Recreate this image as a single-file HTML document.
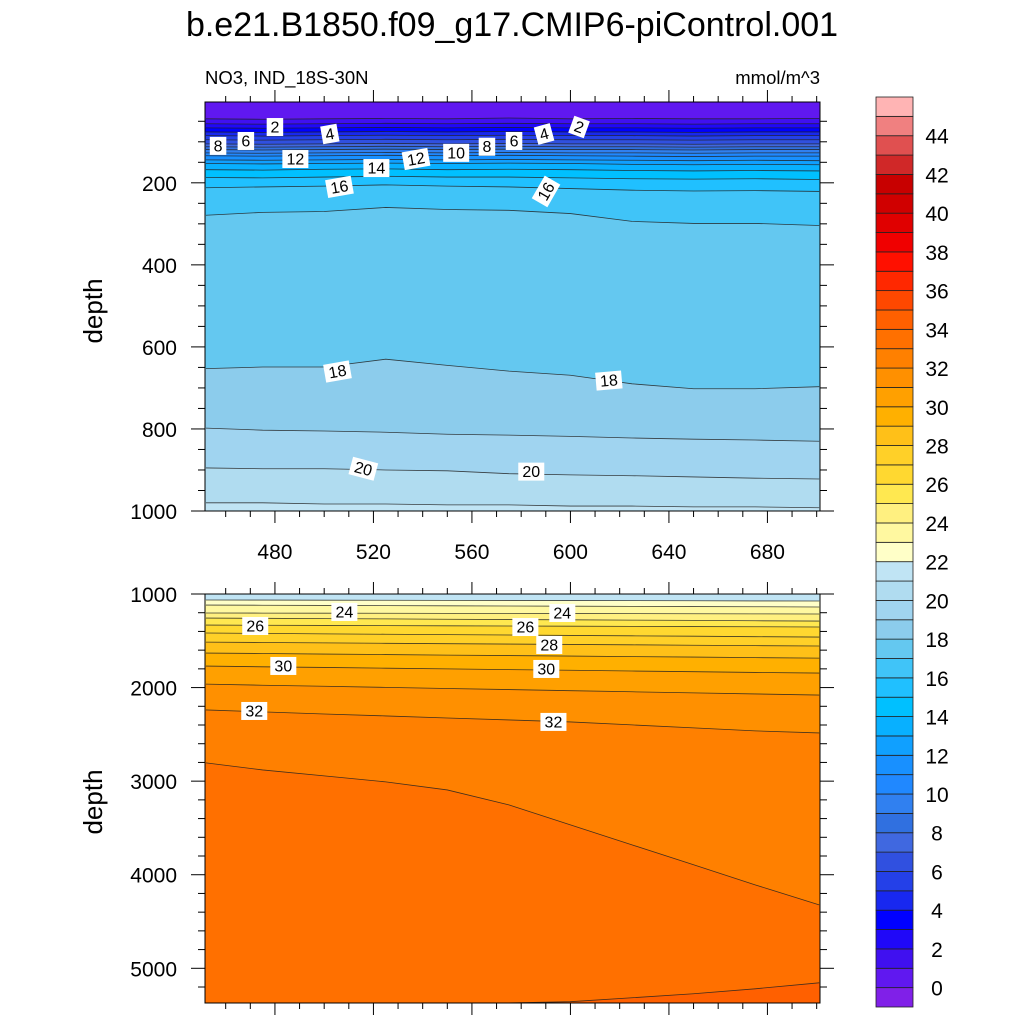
<!DOCTYPE html>
<html><head><meta charset="utf-8"><style>
html,body{margin:0;padding:0;background:#fff;}
svg text{font-family:"Liberation Sans",sans-serif;}
</style></head><body>
<svg id="chart" width="1024" height="1024" viewBox="0 0 1024 1024" xmlns="http://www.w3.org/2000/svg">
<text x="512" y="36" font-size="34" text-anchor="middle">b.e21.B1850.f09_g17.CMIP6-piControl.001</text>
<text x="205" y="84" font-size="18.5">NO3, IND_18S-30N</text>
<text x="820" y="84" font-size="18.5" text-anchor="end">mmol/m^3</text>
<text transform="translate(102,311) rotate(-90)" font-size="26" text-anchor="middle">depth</text>
<text transform="translate(102,802) rotate(-90)" font-size="26" text-anchor="middle">depth</text>
<defs>
<clipPath id="cu"><rect x="205" y="102" width="615" height="409"/></clipPath>
<clipPath id="cl"><rect x="205" y="594" width="615" height="409"/></clipPath>
</defs>
<g id="upper"></g>
<g id="lower"></g>
<g id="cbar"></g>
</svg>
<script>
// ---- data ----
const xs = [452,475,500,525,550,575,600,625,650,675,701];
const upperLevels = [1,2,3,4,5,6,7,8,9,10,11,12,13,14,15,16,17,18,19,20,21];
const upperDepths = [
[44,45,44,43,44,42,44,43,44,44,43],
[56,57,56,55,56,55,56,56,57,56,56],
[66,67,66,65,66,65,66,66,67,66,66],
[76,77,76,75,76,75,76,76,77,76,76],
[85,86,85,84,85,84,85,85,86,85,85],
[95,96,95,94,95,94,95,95,96,95,95],
[105,106,105,104,105,104,105,105,106,105,105],
[112,113,112,111,112,111,112,112,113,112,112],
[119,120,119,118,119,118,119,119,120,119,119],
[127,128,127,126,127,126,127,127,128,127,127],
[134,135,134,133,134,133,134,135,136,135,135],
[144,145,144,143,144,143,144,145,146,145,146],
[153,154,153,152,153,152,153,155,156,155,156],
[168,169,167,166,168,167,168,170,171,170,171],
[187,188,186,184,186,186,188,190,191,190,192],
[212,210,208,205,208,210,214,218,220,219,221],
[279,272,270,260,265,267,275,294,299,299,304],
[653,649,649,630,645,659,669,690,702,702,697],
[798,803,805,808,813,815,818,822,825,827,830],
[895,897,897,900,902,909,912,914,917,920,922],
[980,980,983,983,985,985,988,988,990,990,992]
];
const lowerLevels = [22,23,24,25,26,27,28,29,30,31,32,33,34];
const lowerDepths = [
[1064,1065,1066,1067,1068,1069,1070,1071,1072,1074,1075],
[1118,1120,1122,1124,1126,1128,1130,1132,1134,1136,1139],
[1203,1204,1205,1206,1207,1208,1209,1210,1211,1212,1214],
[1257,1260,1263,1266,1270,1273,1276,1279,1282,1286,1289],
[1332,1334,1336,1338,1340,1342,1344,1346,1348,1350,1353],
[1417,1421,1426,1430,1434,1438,1443,1447,1451,1456,1460],
[1514,1518,1522,1527,1531,1535,1539,1543,1548,1552,1556],
[1631,1636,1642,1647,1653,1658,1663,1669,1674,1680,1685],
[1770,1778,1785,1793,1800,1808,1815,1823,1830,1838,1845],
[1963,1975,1986,1998,2010,2021,2033,2045,2057,2068,2080],
[2239,2260,2282,2303,2325,2346,2367,2399,2431,2463,2485],
[2805,2880,2944,3008,3094,3254,3467,3681,3894,4108,4322],
[5450,5440,5430,5410,5390,5370,5357,5315,5272,5219,5155]
];
const upperLabelText = ["8","6","2","4","12","14","16","12","10","8","6","4","2","16","18","18","20","20"];
const upperLabelX = [456.9,468.2,480,502.3,488.3,521.2,506.2,537.3,553.6,566.1,577.1,589.3,603.5,590.1,505.4,615.6,515.9,584.1];
const upperLabelD = [110,98,64,81,142,164,210,142,127,112,98,81,64,221,660,682,897,904];
const upperLabelRot = [0,0,0,-10,0,0,-10,-10,0,0,0,-15,20,-60,-10,-5,15,0];
const lowerLabelText = ["24","26","24","26","28","30","30","32","32"];
const lowerLabelX = [508.2,472.0,596.7,581.7,591.4,483.4,590.2,471.6,593.1];
const lowerLabelD = [1192,1342,1203,1353,1545,1769,1801,2250,2367];
const xTicks = [480,520,560,600,640,680];
const upperYTicks = [200,400,600,800,1000];
const lowerYTicks = [1000,2000,3000,4000,5000];
const cbarLabels = [0,2,4,6,8,10,12,14,16,18,20,22,24,26,28,30,32,34,36,38,40,42,44];
const bandColors = ["#8020E8","#6018F0","#4010F0","#2008F8","#0000FF","#1828F0","#2440E8","#3050E0","#4068E0","#3070E0","#3080F0","#2088FF","#1890FF","#10A0FF","#08B0FF","#00C0FF","#20C0FF","#40C4F8","#64C8F0","#8CCCEC","#A0D4F0","#B0DCF0","#C0E4F4","#FFFFC8","#FFF8A0","#FFF080","#FFE850","#FFD830","#FFD028","#FFC018","#FFB000","#FFA000","#FF9000","#FF8000","#FF7000","#FF6000","#FF4800","#FF2800","#FF1000","#F00000","#E00000","#D00000","#C80000","#D02828","#E05050","#F08080","#FFB4B4"];

// ---- scales ----
const X0=451.6, X1=701.35, PX0=205, PX1=820;
function sx(x){return PX0+(x-X0)*(PX1-PX0)/(X1-X0);}
function syU(d){return 102+(d-3)*(511-102)/(1000-3);}
function syL(d){return 594+(d-1000)*(968.3-594)/4000;}
const NS="http://www.w3.org/2000/svg";
function mk(tag,attrs,parent){const e=document.createElementNS(NS,tag);for(const k in attrs)e.setAttribute(k,attrs[k]);parent.appendChild(e);return e;}
function colorAbove(level){return bandColors[level+1];}

function drawPanel(g, levels, depths, sy, top, bottom, clipId, name){
  const area=mk('g',{'clip-path':'url(#'+clipId+')'},g);
  const bg=mk('rect',{x:205,y:top,width:615,height:bottom-top,fill:bandColors[levels[0]]},area);
  
  
  levels.forEach((L,i)=>{
    let d='M'+sx(xs[0]-5)+','+sy(depths[i][0]);
    xs.forEach((x,j)=>{d+=' L'+sx(x)+','+sy(depths[i][j]);});
    d+=' L'+sx(xs[xs.length-1]+5)+','+sy(depths[i][xs.length-1]);
    const fillD=d+' L'+sx(X1+5)+','+(bottom+5)+' L'+sx(X0-5)+','+(bottom+5)+' Z';
    const p=mk('path',{d:fillD,fill:colorAbove(L)},area);
    
    
  });
  levels.forEach((L,i)=>{
    let d='';
    xs.forEach((x,j)=>{d+=(j?' L':'M')+sx(x)+','+sy(depths[i][j]);});
    const p=mk('path',{d:d,fill:'none',stroke:'#222','stroke-width':0.8,'stroke-opacity':0.85},area);
    
    
  });
  const f=mk('rect',{x:205,y:top,width:615,height:bottom-top,fill:'none',stroke:'#000','stroke-width':1},g);
  
  
}
function drawLabels(g, texts, lx, ld, rot, sy, name){
  texts.forEach((t,i)=>{
    const cx=sx(lx[i]), cy=sy(ld[i]);
    const w=t.length*9.5+7;
    const lg=mk('g',{transform:'translate('+cx+','+cy+') rotate('+(rot?rot[i]:0)+')'},g);
    
    
    mk('rect',{x:-w/2,y:-9,width:w,height:18,fill:'#fff'},lg);
    const tx=mk('text',{x:0,y:5.5,'font-size':16,'text-anchor':'middle'},lg);
    tx.textContent=t;
  });
}
function drawXTicks(g, top, bottom, labels){
  for(let v=460; v<=700; v+=10){
    const px=sx(v), major=(v%40===0);
    const len=major?12:6;
    mk('line',{x1:px,y1:bottom,x2:px,y2:bottom+len,stroke:'#000','stroke-width':1},g);
    mk('line',{x1:px,y1:top,x2:px,y2:top-len,stroke:'#000','stroke-width':1},g);
  }
  if(labels){
    xTicks.forEach(v=>{
      const t=mk('text',{x:sx(v),y:bottom+48,'font-size':21,'text-anchor':'middle'},g);
      
      
      t.textContent=v;
    });
  }
}
function drawYTicks(g, sy, minorStep, majorStep, from, to, majors){
  for(let v=from; v<=to; v+=minorStep){
    const py=sy(v), major=(v%majorStep===0);
    const len=major?14:7;
    mk('line',{x1:205,y1:py,x2:205-len,y2:py,stroke:'#000','stroke-width':1},g);
    mk('line',{x1:820,y1:py,x2:820+len,y2:py,stroke:'#000','stroke-width':1},g);
  }
  majors.forEach(v=>{
    const t=mk('text',{x:177,y:sy(v)+8,'font-size':21,'text-anchor':'end'},g);
    
    
    t.textContent=v;
  });
}
const ug=document.getElementById('upper'), lg=document.getElementById('lower');
drawPanel(ug, upperLevels, upperDepths, syU, 102, 511, 'cu', 'upper');
drawLabels(ug, upperLabelText, upperLabelX, upperLabelD, upperLabelRot, syU, 'upper');
drawXTicks(ug, 102, 511, true);
drawYTicks(ug, syU, 50, 200, 50, 1000, upperYTicks);
drawPanel(lg, lowerLevels, lowerDepths, syL, 594, 1003, 'cl', 'lower');
drawLabels(lg, lowerLabelText, lowerLabelX, lowerLabelD, null, syL, 'lower');
drawXTicks(lg, 594, 1003, false);
drawYTicks(lg, syL, 200, 1000, 1000, 5200, lowerYTicks);

// colorbar
const cb=document.getElementById('cbar');
const CB_TOP=97, CB_BOT=1007, n=bandColors.length, bh=(CB_BOT-CB_TOP)/n;
bandColors.forEach((c,i)=>{
  const y=CB_BOT-(i+1)*bh;
  const r=mk('rect',{x:876,y:y,width:37,height:bh,fill:c,stroke:'#222','stroke-width':0.8},cb);
  
  
});
cbarLabels.forEach(v=>{
  const y=CB_BOT-(v+1)*bh;
  const t=mk('text',{x:937,y:y+8,'font-size':21,'text-anchor':'middle'},cb);
  
  
  t.textContent=v;
});
</script>
</body></html>
